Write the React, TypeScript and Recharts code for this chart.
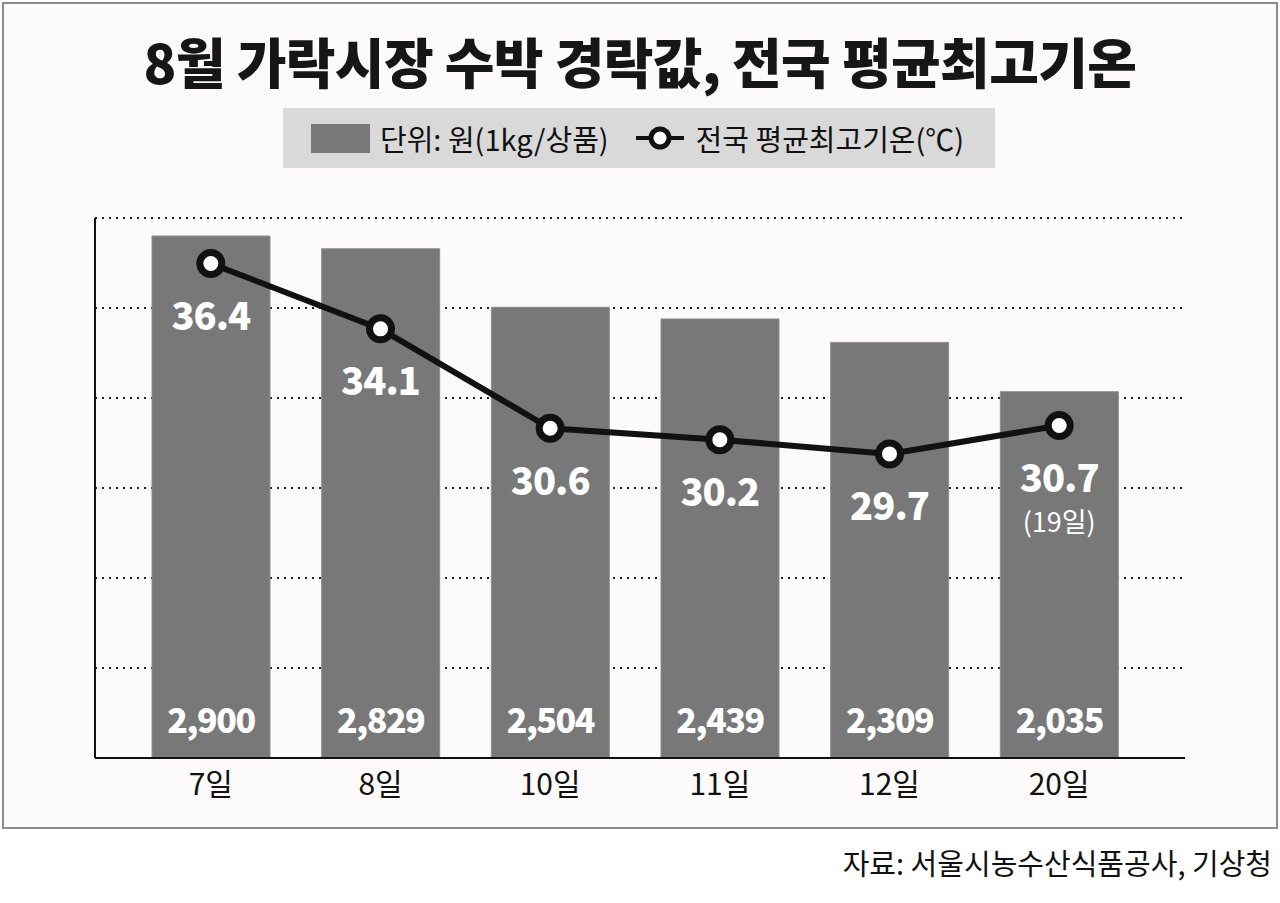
import { ComposedChart, Bar, Line, XAxis, YAxis, CartesianGrid, LabelList } from 'recharts';

const days = ['7일', '8일', '10일', '11일', '12일', '20일'];
const prices = [2900, 2829, 2504, 2439, 2309, 2035];
const temps = [36.4, 34.1, 30.6, 30.2, 29.7, 30.7];
const tempNotes = ['', '', '', '', '', '(19일)'];
const priceTicks = [0, 500, 1000, 1500, 2000, 2500, 3000];

const data = days.map((day, i) => ({ day, price: prices[i], temp: temps[i], note: tempNotes[i] }));

const FONT = '"Noto Sans CJK KR", "Noto Sans", sans-serif';
const BAR_COLOR = '#787878';

const PriceLabel = (props: any) => {
  const { x, y, width, height, value } = props;
  return (
    <text
      x={x + width / 2}
      y={y + height - 40}
      textAnchor="middle"
      dominantBaseline="central"
      fill="#fff"
      fontSize={34}
      fontWeight={800}
      letterSpacing={-1.5}
      fontFamily={FONT}
    >
      {Number(value).toLocaleString('en-US')}
    </text>
  );
};

const TempLabel = (props: any) => {
  const { x, y, value, index } = props;
  const note = tempNotes[index] || '';
  return (
    <g>
      <text
        x={x}
        y={y + 50}
        textAnchor="middle"
        dominantBaseline="central"
        fill="#fff"
        fontSize={38}
        fontWeight={800}
        letterSpacing={-1}
        fontFamily={FONT}
      >
        {value}
      </text>
      {note && (
        <text
          x={x}
          y={y + 95}
          textAnchor="middle"
          dominantBaseline="central"
          fill="#fff"
          fontSize={27}
          fontWeight={400}
          fontFamily={FONT}
        >
          {note}
        </text>
      )}
    </g>
  );
};

const LegendBox = () => (
  <div
    style={{
      position: 'absolute',
      left: 283,
      top: 108,
      width: 712,
      height: 60,
      background: '#d9d9d9',
      display: 'flex',
      alignItems: 'center',
      fontFamily: FONT,
      fontSize: 29,
      color: '#111',
      boxSizing: 'border-box',
      paddingLeft: 28,
    }}
  >
    <span style={{ display: 'inline-block', width: 59, height: 29, background: BAR_COLOR, marginRight: 10 }} />
    <span>단위: 원(1kg/상품)</span>
    <svg width={50} height={30} style={{ marginLeft: 26, marginRight: 11 }}>
      <line x1={1} y1={15} x2={49} y2={15} stroke="#111" strokeWidth={4} />
      <circle cx={25} cy={15} r={9} fill="#fff" stroke="#111" strokeWidth={5} />
    </svg>
    <span>전국 평균최고기온(℃)</span>
  </div>
);

export default function App() {
  return (
    <div style={{ position: 'absolute', left: 0, top: 0, width: 1280, height: 903, background: '#fff', fontFamily: FONT }}>
      <div
        style={{
          position: 'absolute',
          left: 2,
          top: 2,
          width: 1272,
          height: 823,
          border: '2px solid #8c8c8c',
          background: '#fcfafb',
        }}
      />
      <div
        style={{
          position: 'absolute',
          left: 0,
          top: 27,
          width: 1280,
          textAlign: 'center',
          fontSize: 54,
          fontWeight: 900,
          lineHeight: '68px',
          color: '#161616',
          letterSpacing: -0.6,
        }}
      >
        8월 가락시장 수박 경락값, 전국 평균최고기온
      </div>
      <LegendBox />
      <div style={{ position: 'absolute', left: 0, top: 0 }}>
        <ComposedChart width={1280} height={903} data={data} margin={{ top: 218, right: 95, bottom: 115, left: 93 }}>
          <CartesianGrid vertical={false} stroke="#222" strokeWidth={2} strokeDasharray="2 5" />
          <XAxis
            dataKey="day"
            height={30}
            padding={{ left: 31, right: 41 }}
            axisLine={{ stroke: '#111', strokeWidth: 2 }}
            tickLine={false}
            tick={{ fill: '#111', fontSize: 30, fontFamily: FONT }}
            tickMargin={10}
          />
          <YAxis
            domain={[0, 3000]}
            ticks={priceTicks}
            width={2}
            tick={() => <g />}
            tickLine={false}
            axisLine={{ stroke: '#111', strokeWidth: 2 }}
          />
          <YAxis yAxisId="t" orientation="right" domain={[19, 38]} hide />
          <Bar dataKey="price" fill={BAR_COLOR} stroke="#8e8e8e" strokeWidth={1} barSize={118} isAnimationActive={false}>
            <LabelList dataKey="price" content={<PriceLabel />} />
          </Bar>
          <Line
            yAxisId="t"
            dataKey="temp"
            stroke="#111"
            strokeWidth={6}
            dot={{ r: 11, fill: '#fff', stroke: '#111', strokeWidth: 7 }}
            isAnimationActive={false}
          >
            <LabelList dataKey="temp" content={<TempLabel />} />
          </Line>
        </ComposedChart>
      </div>
      <div
        style={{
          position: 'absolute',
          right: 8,
          top: 842,
          fontSize: 29,
          color: '#111',
          lineHeight: '40px',
        }}
      >
        자료: 서울시농수산식품공사, 기상청
      </div>
    </div>
  );
}
